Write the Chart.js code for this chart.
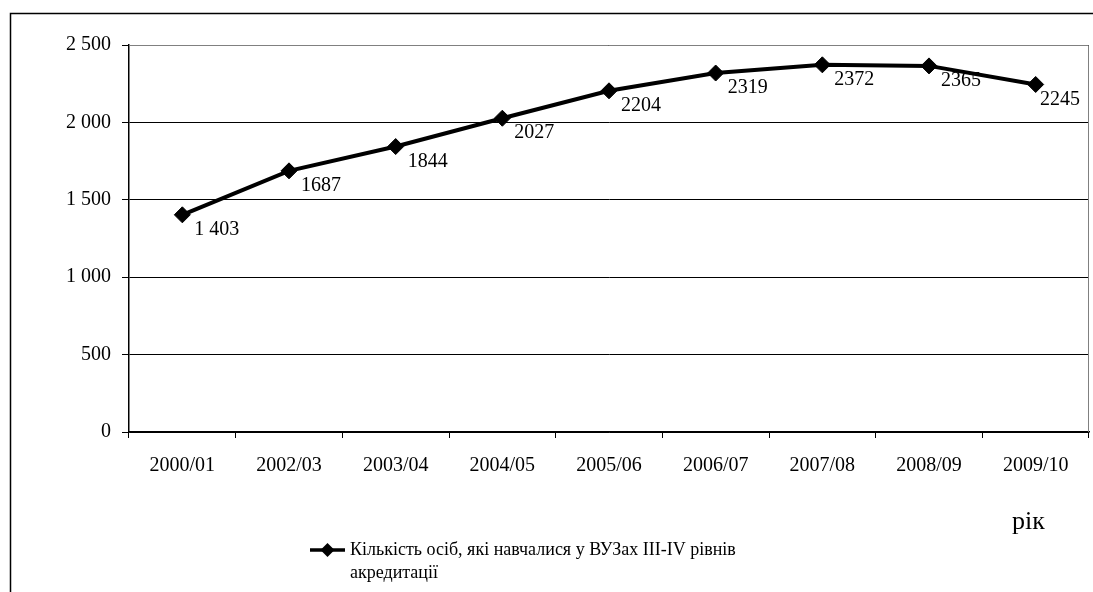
<!DOCTYPE html>
<html lang="uk">
<head>
<meta charset="utf-8">
<title>Кількість осіб, які навчалися у ВУЗах ІІІ-IV рівнів акредитації</title>
<script src="https://cdn.jsdelivr.net/npm/chart.js@4.4.1/dist/chart.umd.min.js"></script>
<style>
  html, body { margin: 0; padding: 0; background: #fff; }
  #wrap { width: 1093px; height: 592px; position: relative; }
</style>
</head>
<body>
<div id="wrap"><canvas id="chart" width="1093" height="592"></canvas></div>
<script>
// Дані
const categories = ['2000/01', '2002/03', '2003/04', '2004/05', '2005/06', '2006/07', '2007/08', '2008/09', '2009/10'];
const students = [1403, 1687, 1844, 2027, 2204, 2319, 2372, 2365, 2245];
const pointLabels = ['1 403', '1687', '1844', '2027', '2204', '2319', '2372', '2365', '2245'];
const yTicks = [0, 500, 1000, 1500, 2000, 2500];
const seriesName = 'Кількість осіб, які навчалися у ВУЗах ІІІ-IV рівнів акредитації';
const axisName = 'рік';

const FONT = "'Liberation Serif', 'Times New Roman', serif";

// Подписи значень, рамка, легенда
const decor = {
  id: 'decor',
  beforeDraw(chart) {
    const c = chart.ctx;
    c.save();
    c.fillStyle = '#fff';
    c.fillRect(0, 0, chart.width, chart.height);
    c.strokeStyle = '#000';
    c.lineWidth = 1.5;
    c.beginPath();
    c.moveTo(10.5, chart.height);
    c.lineTo(10.5, 13.5);
    c.lineTo(chart.width, 13.5);
    c.stroke();
    c.restore();
  },
  afterDatasetsDraw(chart) {
    const c = chart.ctx;
    const a = chart.chartArea;
    c.save();
    // межа області побудови
    c.strokeStyle = '#808080';
    c.lineWidth = 1;
    c.beginPath();
    c.moveTo(a.left, a.top + 0.5);
    c.lineTo(a.right - 0.5, a.top + 0.5);
    c.lineTo(a.right - 0.5, a.bottom);
    c.stroke();

    c.fillStyle = '#000';
    c.font = '20px ' + FONT;
    c.textAlign = 'left';
    c.textBaseline = 'middle';
    chart.getDatasetMeta(0).data.forEach((pt, i) => {
      const w = c.measureText(pointLabels[i]).width;
      const x = Math.min(pt.x + 12, a.right - 9 - w);
      c.fillText(pointLabels[i], x, pt.y + 15);
    });

    // назва осі
    c.font = '26px ' + FONT;
    c.fillText(axisName, a.right - 77, 522);

    // легенда
    const lx = 310, ly = 550;
    c.strokeStyle = '#000';
    c.lineWidth = 3.5;
    c.beginPath();
    c.moveTo(lx, ly);
    c.lineTo(lx + 35, ly);
    c.stroke();
    c.beginPath();
    c.moveTo(lx + 17.5 - 7, ly);
    c.lineTo(lx + 17.5, ly - 7);
    c.lineTo(lx + 17.5 + 7, ly);
    c.lineTo(lx + 17.5, ly + 7);
    c.closePath();
    c.fill();

    c.font = '18px ' + FONT;
    const words = seriesName.split(' ');
    const lines = [];
    let line = '';
    words.forEach(w => {
      const test = line ? line + ' ' + w : w;
      if (c.measureText(test).width > 420 && line) {
        lines.push(line);
        line = w;
      } else {
        line = test;
      }
    });
    lines.push(line);
    lines.forEach((t, i) => c.fillText(t, lx + 40, ly + i * 23));
    c.restore();
  }
};

new Chart(document.getElementById('chart'), {
  type: 'line',
  data: {
    labels: categories,
    datasets: [{
      label: seriesName,
      data: students,
      borderColor: '#000',
      backgroundColor: '#000',
      borderWidth: 4,
      pointStyle: 'rectRot',
      pointRadius: 8,
      pointBorderWidth: 1,
      pointBackgroundColor: '#000',
      pointBorderColor: '#000',
      tension: 0,
      fill: false
    }]
  },
  options: {
    responsive: false,
    animation: false,
    layout: { autoPadding: false, padding: { left: 0, right: 4, top: 45, bottom: 0 } },
    plugins: {
      legend: { display: false },
      tooltip: { enabled: false }
    },
    scales: {
      x: {
        type: 'category',
        offset: true,
        afterFit(s) {
          s.height = 160;
          s.paddingLeft = 0;
          s.paddingRight = 0;
        },
        grid: {
          offset: true,
          drawOnChartArea: false,
          drawTicks: true,
          tickLength: 6,
          color: '#000'
        },
        border: { color: '#000', width: 1.5 },
        ticks: {
          color: '#000',
          font: { family: FONT, size: 20 },
          padding: 16,
          maxRotation: 0,
          autoSkip: false
        }
      },
      y: {
        min: 0,
        max: 2500,
        afterFit(s) {
          s.width = 129;
          s.paddingTop = 0;
          s.paddingBottom = 0;
        },
        afterBuildTicks(s) { s.ticks = yTicks.map(v => ({ value: v })); },
        grid: {
          color: '#000',
          lineWidth: 1,
          tickLength: 7
        },
        border: { color: '#000', width: 1.5 },
        ticks: {
          color: '#000',
          font: { family: FONT, size: 20 },
          padding: 11,
          callback: v => String(v).replace(/\B(?=(\d{3})+(?!\d))/g, ' ')
        }
      }
    }
  },
  plugins: [decor]
});
</script>
</body>
</html>
